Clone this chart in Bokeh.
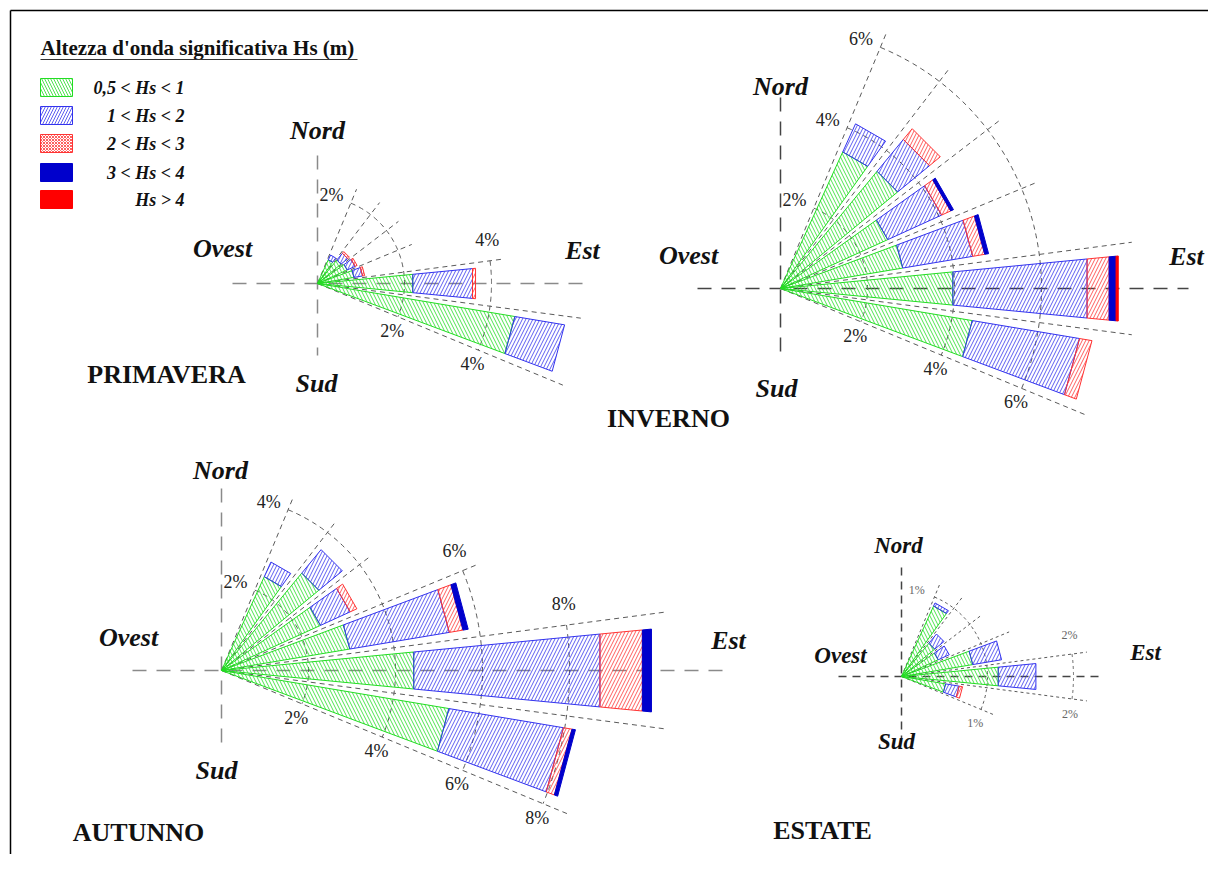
import numpy as np
from bokeh.plotting import figure
from bokeh.models import Range1d
from bokeh.embed import file_html
from bokeh.resources import INLINE
from bokeh.core.properties import value

# ---------------- data ----------------
classes = ["0,5 < Hs < 1", "1 < Hs < 2", "2 < Hs < 3", "3 < Hs < 4", "Hs > 4"]
legend_title = "Altezza d'onda significativa Hs (m)"
bearings = [30, 45, 60, 75, 90, 105]          # provenienza (gradi da Nord)

# frequency (%) per class, one row per bearing
primavera = [[0.60, 0.12, 0.00, 0.00, 0.00],
             [0.70, 0.20, 0.05, 0.00, 0.00],
             [0.75, 0.20, 0.05, 0.00, 0.00],
             [0.85, 0.20, 0.05, 0.00, 0.00],
             [2.20, 1.38, 0.07, 0.00, 0.00],
             [4.60, 1.16, 0.00, 0.00, 0.00]]
inverno = [[3.45, 0.71, 0.00, 0.00, 0.00],
           [3.49, 0.95, 0.32, 0.00, 0.00],
           [2.71, 1.36, 0.23, 0.07, 0.00],
           [2.85, 1.63, 0.28, 0.09, 0.00],
           [3.98, 3.10, 0.51, 0.16, 0.05],
           [4.47, 2.50, 0.29, 0.00, 0.00]]
autunno = [[2.37, 0.37, 0.00, 0.00, 0.00],
           [2.90, 0.70, 0.00, 0.00, 0.00],
           [2.50, 0.75, 0.17, 0.00, 0.00],
           [2.99, 2.32, 0.32, 0.12, 0.00],
           [4.44, 4.30, 0.98, 0.21, 0.00],
           [5.30, 2.67, 0.20, 0.08, 0.00]]
estate = [[0.90, 0.04, 0.00, 0.00, 0.00],
          [0.50, 0.14, 0.00, 0.00, 0.00],
          [0.47, 0.14, 0.00, 0.00, 0.00],
          [0.84, 0.34, 0.00, 0.00, 0.00],
          [1.13, 0.44, 0.00, 0.00, 0.00],
          [0.52, 0.16, 0.04, 0.00, 0.00]]

# rings: (percent, top bearing edge, bottom bearing edge)
rings_primavera = [(2, 22.5, 112.5), (4, 82.5, 112.5)]
rings_inverno = [(2, 22.5, 112.5), (4, 22.5, 112.5), (6, 22.5, 112.5)]
rings_autunno = [(2, 22.5, 112.5), (4, 22.5, 112.5), (6, 67.5, 112.5), (8, 82.5, 112.5)]
rings_estate = [(1, 22.5, 112.5), (2, 82.5, 97.5)]

season_names = ["PRIMAVERA", "INVERNO", "AUTUNNO", "ESTATE"]
dir_names = ["Nord", "Ovest", "Est", "Sud"]

# ---------------- layout / style ----------------
W, H = 1208, 854
p = figure(width=W, height=H, x_range=Range1d(0, W), y_range=Range1d(H, 0),
           output_backend="svg", toolbar_location=None, min_border=0)
p.axis.visible = False
p.grid.visible = False
p.outline_line_color = None
p.background_fill_color = "white"

SERIF = value("Liberation Serif")
col_line = ["#22dd22", "#3333ee", "#ff3333", "#0000cc", "#ff0000"]
hatch = ["\\", "/", "/", None, None]
HALF = 5.5  # half width of a sector bar (deg)

# frame
p.segment(x0=[10, 10], y0=[10, 10], x1=[1208, 10], y1=[10, 854], line_color="black", line_width=1.5)

roses = [
    dict(data=primavera, rings=rings_primavera, c=(317, 283), s=43.5,
         axes=((232, 590), (155, 355)), ax_col="#8a8a8a",
         labels=[(317, 130), (222, 248), (582, 250), (316, 383)], name=(166, 374),
         fs="26px", rfs="18px", rcol="#222222", dash="5 4", rdash="14 10"),
    dict(data=inverno, rings=rings_inverno, c=(780, 288), s=43.5,
         axes=((697, 1188), (97, 360)), ax_col="#444444",
         labels=[(780, 86), (688, 255), (1186, 256), (776, 388)], name=(668, 418),
         fs="26px", rfs="18px", rcol="#222222", dash="5 4", rdash="14 10"),
    dict(data=autunno, rings=rings_autunno, c=(221, 670), s=43.5,
         axes=((132, 724), (488, 752)), ax_col="#8a8a8a",
         labels=[(220, 470), (128, 637), (728, 640), (216, 770)], name=(138, 832),
         fs="26px", rfs="18px", rcol="#222222", dash="5 4", rdash="14 10"),
    dict(data=estate, rings=rings_estate, c=(901, 676), s=86.0,
         axes=((838, 1102), (567, 738)), ax_col="#444444",
         labels=[(898, 545), (840, 655), (1145, 652), (896, 741)], name=(822, 830),
         fs="23px", rfs="12px", rcol="#666666", dash="3 3", rdash="8 6"),
]


def pt(c, r, bearing):
    th = np.radians(90.0 - bearing)
    return c[0] + r * np.cos(th), c[1] - r * np.sin(th)


for k, R in enumerate(roses):
    c, s = R["c"], R["s"]
    data = np.array(R["data"])
    cum = np.cumsum(data, axis=1)
    totals = cum[:, -1]

    # main axes
    (x0, x1), (y0, y1) = R["axes"]
    p.segment(x0=[x0, c[0]], y0=[c[1], y0], x1=[x1, c[0]], y1=[c[1], y1],
              line_color=R["ax_col"], line_width=1.5, line_dash=R["rdash"])

    # sector boundary lines
    step = bearings[1] - bearings[0]
    edges = [b - step / 2 for b in bearings] + [bearings[-1] + step / 2]
    sx0, sy0, sx1, sy1 = [], [], [], []
    for e in edges:
        adj = [totals[i] for i, b in enumerate(bearings) if abs(b - e) <= step / 2 + 1e-6]
        rr = [pc for (pc, top, bot) in R["rings"] if top - 1e-6 <= e <= bot + 1e-6]
        L = max(adj + rr) * s + 15
        ex, ey = pt(c, L, e)
        sx0.append(c[0]); sy0.append(c[1]); sx1.append(ex); sy1.append(ey)
    p.segment(x0=sx0, y0=sy0, x1=sx1, y1=sy1, line_color="#5a5a5a", line_width=1,
              line_dash=R["dash"])

    # rings and their labels
    rxs, rys, tx, ty, tt = [], [], [], [], []
    for (pc, top, bot) in R["rings"]:
        bb = np.linspace(top, bot, 80)
        xs, ys = pt(c, pc * s, bb)
        rxs.append(list(xs)); rys.append(list(ys))
        # top label: offset along counter-clockwise tangent
        px_, py_ = pt(c, pc * s, top)
        th = np.radians(90 - top)
        off = 21 if R["rfs"] == "18px" else 19
        tx.append(px_ - off * np.sin(th)); ty.append(py_ - off * np.cos(th)); tt.append(f"{pc}%")
        px_, py_ = pt(c, pc * s, bot)
        th = np.radians(90 - bot)
        off = 15
        tx.append(px_ + off * np.sin(th)); ty.append(py_ + off * np.cos(th)); tt.append(f"{pc}%")
    p.multi_line(xs=rxs, ys=rys, line_color="#5a5a5a", line_width=1, line_dash=R["dash"])
    p.text(x=tx, y=ty, text=tt, text_font=SERIF, text_font_size=R["rfs"], text_color=R["rcol"],
           text_align="center", text_baseline="middle")

    # bars
    for ci in range(len(classes)):
        pxs, pys = [], []
        for i, b in enumerate(bearings):
            v = data[i, ci]
            if v <= 0:
                continue
            r0 = (cum[i, ci] - v) * s
            r1 = cum[i, ci] * s
            a1, a2 = b - HALF, b + HALF
            if r0 <= 0.01:
                xa, ya = [c[0]], [c[1]]
            else:
                q1 = pt(c, r0, a1); q2 = pt(c, r0, a2)
                xa, ya = [q2[0], q1[0]], [q2[1], q1[1]]
            o1 = pt(c, r1, a1); o2 = pt(c, r1, a2)
            pxs.append(xa + [o1[0], o2[0]])
            pys.append(ya + [o1[1], o2[1]])
        if not pxs:
            continue
        if hatch[ci] is None:
            p.patches(xs=pxs, ys=pys, fill_color=col_line[ci], line_color=col_line[ci], line_width=1)
        else:
            p.patches(xs=pxs, ys=pys, fill_color=None, line_color=col_line[ci], line_width=1,
                      hatch_pattern=hatch[ci], hatch_color=col_line[ci], hatch_scale=7,
                      hatch_weight=0.8)

    # direction labels
    lx = [q[0] for q in R["labels"]]
    ly = [q[1] for q in R["labels"]]
    p.text(x=lx, y=ly, text=dir_names, text_font=SERIF, text_font_style="bold italic",
           text_font_size=R["fs"], text_color="#111111", text_align="center", text_baseline="middle")
    p.text(x=[R["name"][0]], y=[R["name"][1]], text=[season_names[k]], text_font=SERIF,
           text_font_style="bold", text_font_size="26px", text_color="#111111",
           text_align="center", text_baseline="middle")

# ---------------- legend ----------------
p.text(x=[40], y=[47], text=[legend_title], text_font=SERIF, text_font_style="bold",
       text_font_size="21px", text_color="#111111", text_align="left", text_baseline="middle")
p.segment(x0=[40], y0=[59], x1=[357], y1=[59], line_color="#333333", line_width=1.2)
rows = [87, 115, 143, 172, 199]
leg_hatch = ["\\", "/", "x", None, None]
for ci, yy in enumerate(rows):
    if leg_hatch[ci] is None:
        p.quad(left=[40], right=[72], top=[yy - 9], bottom=[yy + 9], fill_color=col_line[ci],
               line_color=col_line[ci], line_width=1)
    else:
        p.quad(left=[40], right=[72], top=[yy - 9], bottom=[yy + 9], fill_color=None,
               line_color=col_line[ci], line_width=1, hatch_pattern=leg_hatch[ci],
               hatch_color=col_line[ci], hatch_scale=6 if ci < 2 else 3, hatch_weight=0.8)
p.text(x=[184] * 5, y=rows, text=classes, text_font=SERIF, text_font_style="bold italic",
       text_font_size="18px", text_color="#111111", text_align="right", text_baseline="middle")

open("out.html", "w").write(file_html(p, INLINE))
